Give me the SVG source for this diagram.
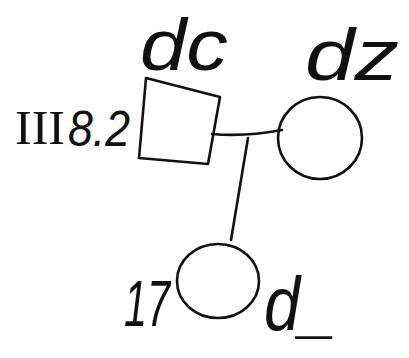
<svg xmlns="http://www.w3.org/2000/svg" width="409" height="358" viewBox="0 0 409 358">
<style>
.s{fill:none;stroke:#111;stroke-width:2.6;stroke-linecap:round;stroke-linejoin:round}
.t{font-family:"Liberation Sans",Arial,sans-serif;font-style:italic;fill:#111}
.r{font-family:"Liberation Serif","Times New Roman",serif;fill:#111}
</style>
<rect width="409" height="358" fill="#fff"/>
<g id="connectors">
<path class="s" d="M212,134 Q245,137 282,130"/>
<path class="s" d="M248,138 L231,240"/>
</g>
<g id="male">
<path class="s" d="M146,78 L220,97 L208,164 L139,158 Z"/>
<text class="t" x="140" y="70" font-size="72" textLength="88" lengthAdjust="spacingAndGlyphs">dc</text>
<text class="r" x="15" y="144" font-size="48" textLength="50" lengthAdjust="spacingAndGlyphs">III</text>
<text class="t" x="68" y="146" font-size="50" textLength="62" lengthAdjust="spacingAndGlyphs">8.2</text>
</g>
<g id="female">
<ellipse class="s" cx="320" cy="138" rx="42" ry="41"/>
<text class="t" x="305" y="80" font-size="72" textLength="94" lengthAdjust="spacingAndGlyphs">dz</text>
</g>
<g id="daughter">
<ellipse class="s" cx="218" cy="281" rx="41" ry="37"/>
<text class="t" x="124" y="326" font-size="64" textLength="46" lengthAdjust="spacingAndGlyphs">17</text>
<text class="t" x="264" y="330" font-size="76" textLength="72" lengthAdjust="spacingAndGlyphs">d_</text>
</g>
</svg>
